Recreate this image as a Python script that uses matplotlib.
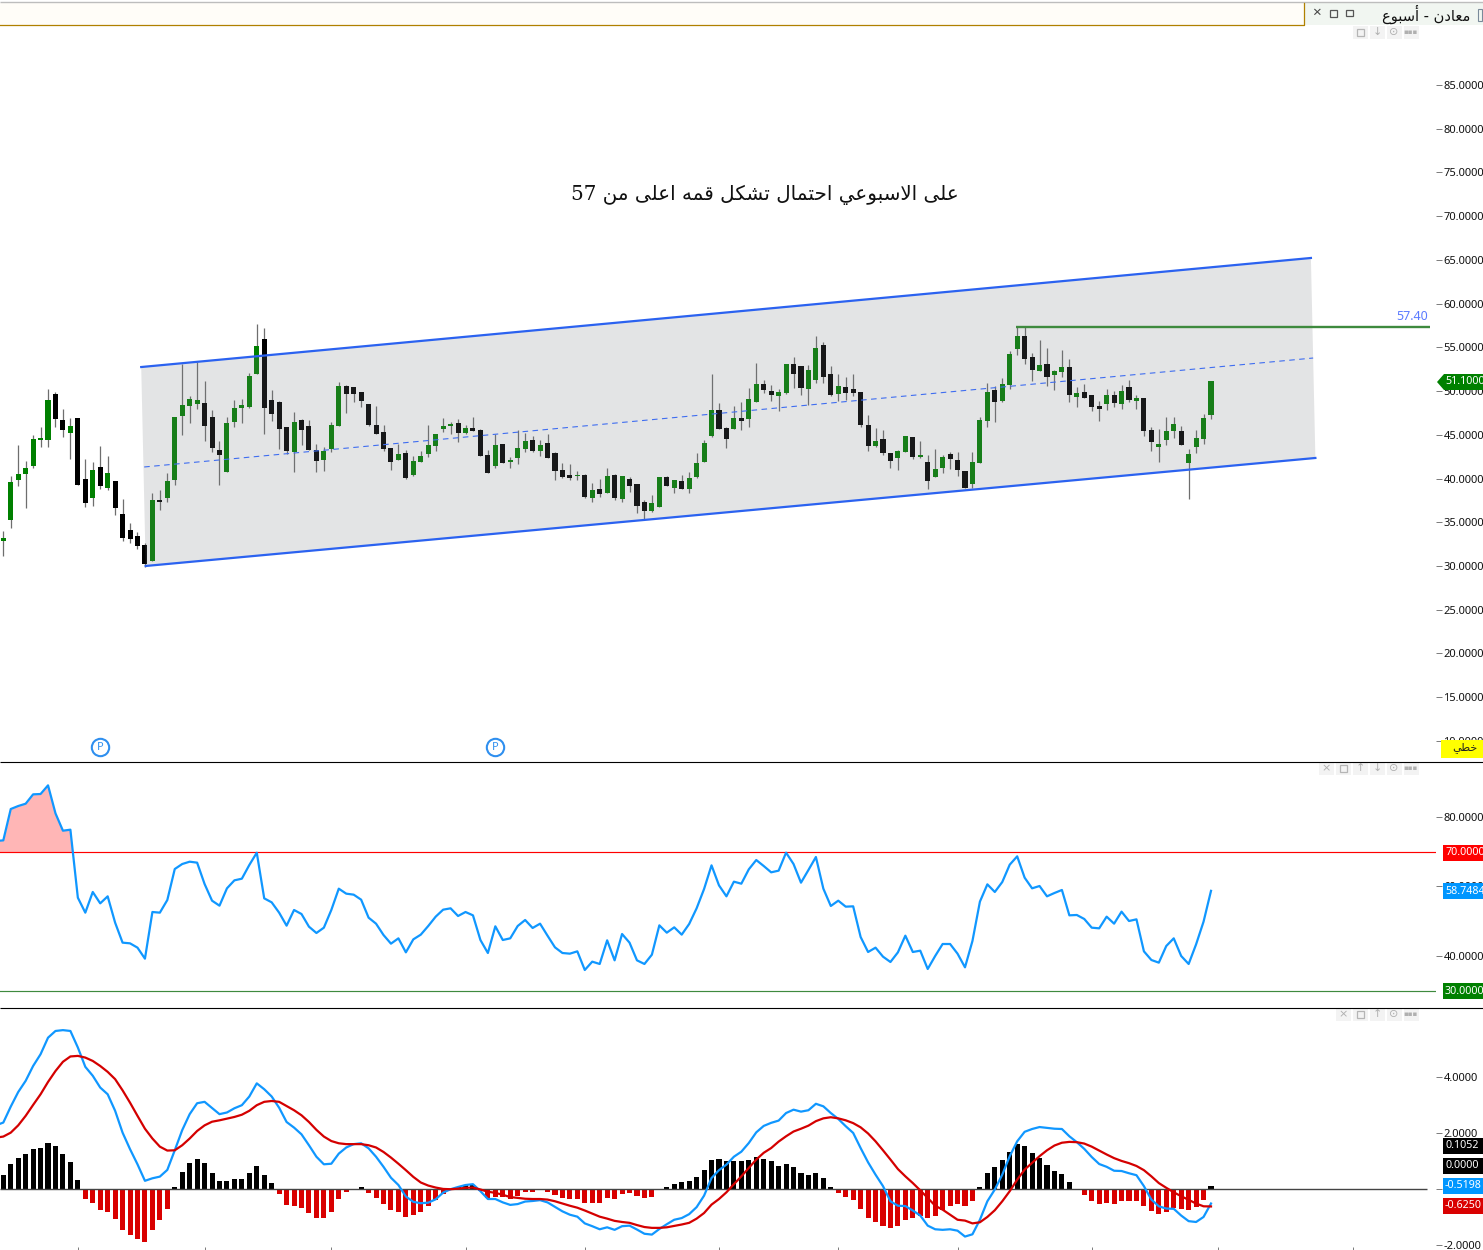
import numpy as np
import matplotlib
matplotlib.use('Agg')
from matplotlib import pyplot as plt
from matplotlib.patches import Rectangle, Polygon

# weekly candles
opens = [32.86,35.26,39.83,40.52,41.43,44.41,44.41,49.67,46.69,45.21,46.92,39.95,37.77,41.32,38.92,39.72,35.94,34.11,33.43,32.40,
         30.57,37.55,37.77,39.83,47.15,48.30,48.52,48.64,47.04,43.26,40.75,46.46,48.07,48.18,51.95,55.96,48.98,48.75,45.89,43.03,
         46.69,46.01,43.26,42.12,43.38,46.01,50.58,50.47,49.90,48.52,46.12,45.32,43.49,42.12,42.92,40.40,41.89,42.81,43.72,45.66,
         46.01,46.35,45.21,45.78,45.55,42.69,41.43,43.95,41.89,42.35,43.38,44.41,43.15,44.06,42.92,40.98,40.40,40.29,40.40,37.77,
         38.80,38.35,40.40,37.66,39.95,39.37,37.32,36.29,36.74,40.18,38.92,39.72,38.80,40.18,41.89,44.86,47.84,45.78,45.66,46.92,
         46.81,48.75,50.81,50.01,49.44,49.78,53.10,52.87,50.24,51.27,55.27,51.95,49.67,50.47,50.24,49.90,46.12,43.72,44.52,42.92,
         42.35,43.03,44.75,42.46,41.89,40.18,41.20,42.81,42.12,40.86,39.37,41.78,46.58,50.12,48.86,50.69,54.81,56.30,53.90,52.30,
         53.10,51.84,52.18,52.75,49.32,49.89,49.55,48.29,48.52,49.55,48.52,50.47,48.86,49.21,45.55,43.60,44.40,45.43,45.43,41.77,
         43.60,44.52,47.26]
closes = [33.20,39.60,40.52,41.20,44.52,44.64,48.98,46.81,45.55,46.01,39.26,37.20,40.98,39.15,40.63,36.63,33.20,33.09,32.28,30.23,
          37.55,37.32,39.72,47.04,48.41,49.10,48.98,46.01,43.49,42.69,46.35,48.07,48.41,51.73,55.16,48.07,47.38,45.66,43.15,46.46,
          45.55,43.26,42.00,43.15,46.12,50.58,49.67,49.67,48.87,46.12,45.09,43.38,41.89,42.81,40.06,42.00,42.58,43.83,45.09,46.01,
          46.24,45.21,45.78,45.44,42.58,40.63,43.83,41.78,42.12,43.49,44.29,43.15,43.83,42.35,40.86,40.18,40.06,40.40,37.89,38.69,
          38.23,40.29,37.77,40.29,39.15,36.86,36.29,37.20,40.18,39.15,39.83,38.80,40.06,41.78,44.06,47.84,45.66,44.52,46.92,46.58,
          49.10,50.81,50.12,49.55,49.90,53.10,51.95,50.35,52.41,54.93,51.61,49.55,50.58,49.78,49.78,46.12,43.72,44.29,42.92,42.00,
          43.15,44.86,42.46,42.69,39.72,41.09,42.46,42.23,40.98,38.92,41.89,46.69,49.89,48.75,50.81,54.24,56.30,53.67,52.41,52.98,
          51.61,52.30,52.75,49.55,49.78,49.21,48.18,47.95,49.55,48.64,50.01,48.98,49.21,45.43,44.18,43.95,45.43,46.23,43.83,42.80,
          44.63,46.92,51.10]
highs = [33.96,40.29,43.83,42.00,44.98,45.89,50.24,49.90,47.95,46.92,46.92,42.23,41.89,43.72,42.58,39.72,37.66,34.91,33.89,32.63,
         38.35,38.69,40.63,47.04,53.10,49.44,53.33,51.15,47.84,44.29,47.04,48.98,49.10,52.07,57.67,57.22,50.12,48.87,45.89,47.61,
         46.81,46.69,43.95,43.61,46.46,51.04,50.70,50.47,49.90,48.52,48.30,46.12,43.49,43.95,43.26,42.58,43.15,46.12,45.09,46.92,
         46.46,46.81,46.12,47.04,45.66,43.26,45.09,43.95,42.46,45.55,45.21,44.86,44.41,45.09,43.03,41.78,41.66,40.86,40.52,39.49,
         39.95,41.20,40.52,40.29,40.18,39.37,37.55,38.12,40.18,40.29,39.83,40.40,40.75,42.92,44.41,51.95,48.64,45.89,48.30,48.75,
         50.35,53.21,51.27,50.70,50.24,53.10,53.90,52.87,52.98,56.30,55.61,52.87,51.95,51.61,51.95,49.90,47.27,45.78,45.55,42.92,
         43.26,44.86,44.75,44.29,42.69,43.38,42.69,43.03,43.03,40.86,43.03,47.04,50.92,50.58,51.50,54.58,57.29,57.29,54.35,55.84,
         54.93,52.41,54.70,53.67,50.47,50.81,49.55,48.86,50.24,50.01,50.69,51.27,49.55,49.21,45.89,45.66,47.03,47.03,46.01,43.38,
         45.55,47.38,51.15]
lows = [31.14,34.34,39.15,36.63,41.20,43.61,43.61,45.89,44.75,42.23,39.26,36.74,36.86,38.80,38.69,35.83,32.86,32.63,31.94,29.88,
        30.57,36.40,37.32,39.26,44.98,46.35,47.95,44.29,43.03,39.26,40.75,45.89,46.35,48.07,51.95,45.09,46.58,43.38,42.81,40.75,
        43.83,43.26,40.75,40.86,43.03,46.01,47.49,48.75,48.18,46.01,45.09,43.15,40.98,42.12,39.95,40.29,41.89,42.46,43.15,45.32,
        45.09,44.18,45.09,45.44,42.58,40.63,41.20,41.78,41.20,41.66,43.03,43.03,42.58,42.35,39.83,40.06,39.83,39.83,37.77,37.32,
        37.89,38.35,37.55,37.32,38.46,36.06,35.26,36.17,36.74,39.15,38.35,38.80,38.35,40.06,41.89,44.75,45.66,43.49,45.66,45.55,
        45.89,48.75,49.78,48.87,47.72,49.67,50.35,49.55,48.41,50.93,50.93,49.44,48.87,48.98,49.44,45.89,43.15,43.61,42.69,41.20,
        40.98,43.03,42.23,42.35,38.80,40.18,40.63,41.09,40.29,38.92,38.92,41.78,45.89,46.46,48.75,50.24,54.12,53.10,51.15,52.30,
        50.58,50.12,51.61,48.75,48.18,49.21,47.72,46.58,47.84,48.18,47.95,48.75,47.95,44.86,43.15,41.89,43.83,44.63,43.83,37.66,
        42.92,43.95,46.81]

# first value of rsi, macd and signal belongs to the bar before the first candle
rsi = [73.09,73.28,82.30,83.16,83.83,86.52,86.62,89.11,81.05,76.06,76.35,56.78,52.47,58.42,55.15,57.17,49.59,43.84,43.64,42.40,39.23,
       52.66,52.47,56.11,65.03,66.47,67.14,66.86,60.72,55.92,54.48,59.47,61.77,62.25,66.19,69.73,56.59,55.44,52.47,48.73,53.24,
       52.08,48.44,46.62,48.15,53.24,59.37,57.94,57.65,56.21,51.03,49.30,46.04,43.55,45.08,41.05,44.79,46.14,48.63,51.32,53.33,
       53.72,51.51,52.66,51.70,44.60,40.86,48.54,44.60,45.08,48.63,50.36,48.06,49.30,45.85,42.49,40.86,40.67,41.34,35.97,38.37,
       37.70,44.51,38.75,46.33,43.84,38.75,37.70,40.38,48.82,46.71,48.25,46.14,49.21,53.72,59.28,66.09,60.33,57.17,61.39,60.81,
       64.94,67.62,65.90,64.08,64.56,69.74,66.47,61.10,64.75,68.49,59.38,54.39,55.92,54.20,54.29,45.47,41.15,42.40,39.81,38.27,
       41.05,45.85,41.15,41.53,36.26,40.00,43.45,43.45,40.67,36.74,44.32,55.63,60.62,58.42,61.29,66.28,68.68,62.54,59.47,60.14,
       57.17,58.13,59.00,51.70,51.80,50.65,48.15,47.96,51.32,49.30,52.76,50.07,50.55,41.34,38.85,38.08,42.88,45.08,40.00,37.70,
       43.36,49.88,58.75]
macd = [2.27,2.37,2.94,3.46,3.86,4.39,4.81,5.40,5.64,5.67,5.64,5.05,4.36,4.04,3.62,3.38,2.79,2.01,1.42,.88,.29,
        .38,.44,.68,1.38,2.10,2.67,3.06,3.11,2.89,2.67,2.73,2.88,2.99,3.30,3.77,3.56,3.30,2.90,2.39,2.19,
        1.95,1.56,1.15,.88,.90,1.26,1.48,1.60,1.63,1.45,1.15,.79,.40,.14,-.27,-.46,-.51,-.49,-.37,-.13,
        -.01,.07,.14,.17,-.08,-.36,-.36,-.48,-.57,-.54,-.45,-.43,-.40,-.48,-.64,-.80,-.92,-.99,-1.23,-1.33,
        -1.44,-1.37,-1.46,-1.33,-1.31,-1.45,-1.60,-1.63,-1.43,-1.26,-1.10,-1.04,-.90,-.65,-.24,.39,.67,.87,1.15,1.33,
        1.64,2.02,2.25,2.36,2.44,2.71,2.83,2.76,2.81,3.04,2.95,2.71,2.50,2.24,2.00,1.46,.95,.51,.10,-.44,
        -.60,-.61,-.77,-.95,-1.31,-1.44,-1.46,-1.44,-1.49,-1.70,-1.62,-1.10,-.44,-.02,.51,1.17,1.70,2.04,2.14,2.21,
        2.18,2.15,2.14,1.88,1.67,1.43,1.14,.89,.79,.65,.64,.56,.49,.10,-.38,-.62,-.70,-.71,-.95,-1.15,
        -1.18,-1.00,-.52]
signal = [1.83,1.87,2.01,2.27,2.61,3.00,3.38,3.82,4.21,4.54,4.73,4.75,4.69,4.57,4.39,4.18,3.92,3.52,3.08,2.61,2.15,
          1.80,1.51,1.37,1.38,1.56,1.80,2.07,2.27,2.40,2.45,2.51,2.57,2.65,2.79,2.99,3.11,3.14,3.11,2.96,2.81,
          2.63,2.39,2.11,1.87,1.71,1.63,1.60,1.60,1.60,1.56,1.48,1.32,1.12,.90,.67,.43,.23,.12,.05,0,
          -.01,.01,.04,.05,-.02,-.10,-.14,-.21,-.29,-.32,-.35,-.36,-.36,-.38,-.44,-.52,-.60,-.67,-.77,-.88,
          -.99,-1.06,-1.14,-1.18,-1.21,-1.29,-1.36,-1.39,-1.39,-1.37,-1.32,-1.27,-1.21,-1.06,-.86,-.56,-.36,-.12,.17,.45,
          .75,1.05,1.29,1.46,1.69,1.88,2.05,2.15,2.26,2.42,2.52,2.56,2.52,2.45,2.35,2.20,1.98,1.70,1.38,1.05,
          .71,.45,.21,-.05,-.32,-.60,-.74,-.92,-1.10,-1.13,-1.23,-1.19,-1.00,-.76,-.44,-.08,.33,.69,.93,1.17,
          1.38,1.55,1.65,1.68,1.67,1.62,1.51,1.37,1.23,1.10,1.00,.92,.82,.67,.45,.21,.04,-.12,-.26,-.39,
          -.52,-.62,-.625]
hist = [.49,.88,1.10,1.24,1.42,1.45,1.63,1.52,1.24,.95,.31,-.37,-.51,-.76,-.83,-1.08,-1.48,-1.65,-1.80,-1.90,
        -1.48,-1.12,-.73,.06,.60,.92,1.06,.92,.56,.27,.27,.35,.35,.56,.81,.49,.20,-.19,-.58,-.62,
        -.69,-.87,-1.05,-1.05,-.83,-.37,-.12,-.01,.06,-.15,-.33,-.55,-.76,-.83,-1.01,-.94,-.83,-.62,-.40,-.19,
        -.04,.06,.13,.13,-.08,-.31,-.30,-.29,-.35,-.24,-.10,-.10,-.01,-.10,-.20,-.31,-.35,-.35,-.49,-.49,
        -.49,-.31,-.35,-.17,-.13,-.24,-.31,-.27,-.01,.08,.19,.23,.30,.44,.69,1.05,1.08,.98,1.01,.98,
        1.05,1.15,1.08,.98,.83,.90,.80,.58,.51,.58,.40,.08,-.13,-.27,-.38,-.70,-1.02,-1.17,-1.31,-1.38,
        -1.31,-1.10,-1.02,-.95,-1.02,-.95,-.74,-.60,-.52,-.60,-.42,.08,.58,.80,1.05,1.33,1.62,1.55,1.30,1.12,
        .87,.65,.55,.23,0,-.20,-.42,-.52,-.49,-.52,-.42,-.42,-.42,-.60,-.77,-.88,-.81,-.67,-.70,-.74,
        -.63,-.38,.1052]

price_ticks = list(range(10, 90, 5))
rsi_ticks = [40, 60, 80]
macd_ticks = [-2, 0, 2, 4]
time_tick_bars = [10, 27, 44, 62, 78, 96, 112, 128, 146, 163, 181]
event_bars = [13, 66]

# drawn channel and resistance, in bars and price
channel_top_x, channel_top_y = [18.5, 175.4], [52.75, 65.22]
channel_low_x, channel_low_y = [19.1, 176.0], [30.0, 42.35]
channel_mid_x, channel_mid_y = [18.9, 175.7], [41.32, 53.78]
resistance_start, resistance_end, resistance_price = 135.9, 191.4, 57.3

title_text = 'على الاسبوعي احتمال تشكل قمه اعلى من 57'
window_text = 'معادن - أسبوع'
scale_text = 'خطي'

# matplotlib does not join arabic letters, so pick the presentation forms by hand
FORMS = {'ا': (0xFE8D, 0xFE8E), 'أ': (0xFE83, 0xFE84), 'د': (0xFEA9, 0xFEAA), 'و': (0xFEED, 0xFEEE), 'ى': (0xFEEF, 0xFEF0),
         'ب': (0xFE8F, 0xFE90, 0xFE91, 0xFE92), 'ت': (0xFE95, 0xFE96, 0xFE97, 0xFE98), 'ح': (0xFEA1, 0xFEA2, 0xFEA3, 0xFEA4),
         'خ': (0xFEA5, 0xFEA6, 0xFEA7, 0xFEA8), 'س': (0xFEB1, 0xFEB2, 0xFEB3, 0xFEB4), 'ش': (0xFEB5, 0xFEB6, 0xFEB7, 0xFEB8),
         'ط': (0xFEC1, 0xFEC2, 0xFEC3, 0xFEC4), 'ع': (0xFEC9, 0xFECA, 0xFECB, 0xFECC), 'ق': (0xFED5, 0xFED6, 0xFED7, 0xFED8),
         'ك': (0xFED9, 0xFEDA, 0xFEDB, 0xFEDC), 'ل': (0xFEDD, 0xFEDE, 0xFEDF, 0xFEE0), 'م': (0xFEE1, 0xFEE2, 0xFEE3, 0xFEE4),
         'ن': (0xFEE5, 0xFEE6, 0xFEE7, 0xFEE8), 'ه': (0xFEE9, 0xFEEA, 0xFEEB, 0xFEEC), 'ي': (0xFEF1, 0xFEF2, 0xFEF3, 0xFEF4)}
LAM_ALEF = {'ا': (0xFEFB, 0xFEFC), 'أ': (0xFEF7, 0xFEF8)}


def shape_word(word):
    if word[0] not in FORMS:
        return word
    out = []
    i = 0
    while i < len(word):
        ch = word[i]
        joins_prev = i > 0 and len(FORMS[word[i - 1]]) == 4
        if ch == 'ل' and i + 1 < len(word) and word[i + 1] in LAM_ALEF:
            out.append(chr(LAM_ALEF[word[i + 1]][1 if joins_prev else 0]))
            i += 2
            continue
        joins_next = len(FORMS[ch]) == 4 and i + 1 < len(word)
        form = {(False, False): 0, (True, False): 1, (False, True): 2, (True, True): 3}[(joins_prev, joins_next)]
        out.append(chr(FORMS[ch][form]))
        i += 1
    return ''.join(reversed(out))


def shape(text):
    return ' '.join(shape_word(w) for w in reversed(text.split(' ')))


W, H = 1483, 1250
BAR_PX = 7.455
FIRST_PX = 3.3
PANE_RIGHT = 1436
plt.rcParams['font.family'] = ['Noto Sans', 'DejaVu Sans']
TICK_GRAY = '#7a7a7a'

fig = plt.figure(figsize=(W / 100, H / 100), dpi=100, facecolor='white')


def pane(top, bottom, ylim):
    ax = fig.add_axes([0, 1 - bottom / H, PANE_RIGHT / W, (bottom - top) / H])
    ax.set_xlim(-FIRST_PX / BAR_PX, (PANE_RIGHT - FIRST_PX) / BAR_PX)
    ax.set_ylim(*ylim)
    for s in ax.spines.values():
        s.set_visible(False)
    ax.yaxis.tick_right()
    ax.tick_params(axis='y', length=4.3, width=0.7, color=TICK_GRAY, pad=1, labelsize=8, labelcolor='#111111')
    ax.set_xticks([])
    return ax


ax1 = pane(25, 761, (7.70, 91.86))
ax2 = pane(762, 1007, (25.32, 95.83))
ax3 = pane(1008, 1250, (-2.18, 6.46))

# price pane
bars = np.arange(len(closes))
opens_a, closes_a = np.array(opens), np.array(closes)
candle_colors = ['#008000' if c >= o else '#000000' for o, c in zip(opens, closes)]
ax1.vlines(bars, lows, highs, color='#6e6e6e', lw=0.9, zorder=2)
ax1.bar(bars, np.abs(closes_a - opens_a), bottom=np.minimum(opens_a, closes_a), width=0.68, color=candle_colors, lw=0, zorder=3)

ax1.fill(channel_top_x + channel_low_x[::-1], channel_top_y + channel_low_y[::-1], color='#75797e', alpha=0.2, lw=0, zorder=4)
ax1.plot(channel_top_x, channel_top_y, color='#2b62f0', lw=1.6, zorder=5)
ax1.plot(channel_low_x, channel_low_y, color='#2b62f0', lw=1.6, zorder=5)
ax1.plot(channel_mid_x, channel_mid_y, color='#3f6df0', lw=0.8, ls=(0, (5, 4)), zorder=5)
ax1.hlines(resistance_price, resistance_start, resistance_end, color='#3e8a3e', lw=1.7, zorder=6)
ax1.set_yticks(price_ticks, ['%.4f' % t for t in price_ticks])

ax1.plot(event_bars, [9.3, 9.3], 'o', ms=12.5, mfc='white', mec='#2f8fef', mew=1.5, clip_on=False, zorder=7)
for b in event_bars:
    ax1.text(b, 9.3, 'P', color='#2f8fef', fontsize=8, fontweight='bold', ha='center', va='center', zorder=8)

# rsi pane
rsi_x = np.arange(-1, len(rsi) - 1)
rsi_a = np.array(rsi)
ax2.fill_between(rsi_x, 70, rsi_a, where=rsi_a > 70, interpolate=True, color='#ffb6b6', lw=0, zorder=1)
ax2.axhline(70, color='#ff0000', lw=0.85, zorder=2)
ax2.axhline(30, color='#3e8a3e', lw=0.85, zorder=2)
ax2.plot(rsi_x, rsi, color='#1097ff', lw=1.6, zorder=3)
ax2.set_yticks(rsi_ticks, ['%.4f' % t for t in rsi_ticks])

# macd pane
hist_bars = np.arange(len(hist))
hist_colors = ['#000000' if v >= 0 else '#d90000' for v in hist]
ax3.bar(hist_bars, hist, width=0.68, color=hist_colors, lw=0, zorder=2)
ax3.hlines(0, ax3.get_xlim()[0], (1427 - FIRST_PX) / BAR_PX, color='#444444', lw=1.0, zorder=3)
macd_x = np.arange(-1, len(macd) - 1)
ax3.plot(macd_x, macd, color='#1097ff', lw=1.6, zorder=4)
ax3.plot(macd_x, signal, color='#d40000', lw=1.6, zorder=5)
ax3.set_yticks(macd_ticks, ['%.4f' % t for t in macd_ticks])
ax3.set_xticks(time_tick_bars)
ax3.tick_params(axis='x', direction='in', length=2.2, width=0.7, color=TICK_GRAY, labelbottom=False)

# window frame, price flags and small buttons, placed in pixels on top of the panes
ui = fig.add_axes([0, 0, 1, 1], zorder=10)
ui.set_xlim(0, W)
ui.set_ylim(H, 0)
ui.axis('off')
ui.patch.set_alpha(0)


def box(x0, y0, x1, y1, **kw):
    ui.add_patch(Rectangle((x0, y0), x1 - x0, y1 - y0, **kw))


ui.hlines([761.5, 1007.5], 0, W, color='black', lw=0.8)
ui.hlines(2, 0, W, color='#bdbdbd', lw=1.0)
box(0, 3, 1303.5, 24.5, facecolor='#fffdf8', edgecolor='none')
ui.plot([0, 1303.5, 1303.5], [24.5, 24.5, 3], color='#b08000', lw=0.9)
box(1304, 3, W, 24.5, facecolor='#f1f6f1', edgecolor='none')
ui.text(1316, 13.5, '×', color='#444444', fontsize=11, fontweight='bold', ha='center', va='center')
box(1329.5, 9.5, 1336.5, 16.5, fill=False, edgecolor='#555555', lw=0.9)
box(1345.5, 9.5, 1352.5, 15.5, fill=False, edgecolor='#555555', lw=0.9)
ui.text(1470, 14, shape(window_text), fontsize=10.5, family=['DejaVu Sans'], ha='right', va='center', color='#111111')
box(1477.5, 9, 1481.5, 21, fill=False, edgecolor='#7a8a9a', lw=0.8)

ui.text(765, 195, shape(title_text), fontsize=14.3, family=['DejaVu Serif', 'DejaVu Sans'], ha='center', va='center', color='#111111')
ui.text(1428, 316, '57.40', fontsize=9, color='#5b7bff', ha='right', va='center')


def flag(y, text, color):
    box(1443, y - 8, W, y + 8, facecolor=color, edgecolor='none')
    ui.text(1445, y, text, color='white', fontsize=7.7, ha='left', va='center')


ui.add_patch(Polygon([(1437, 382), (1444, 374), (W, 374), (W, 390), (1444, 390)], facecolor='#008000', edgecolor='none'))
ui.text(1445, 382, '51.1000', color='white', fontsize=7.7, ha='left', va='center')
box(1441, 740, W, 758, facecolor='#ffff00', edgecolor='none')
ui.text(1465, 748, shape(scale_text), fontsize=8, family=['DejaVu Sans'], ha='center', va='center', color='#222222')
flag(852.5, '70.0000', '#ff0000')
flag(891, '58.7484', '#0096ff')
flag(991, '30.0000', '#008000')
flag(1146, '0.1052', '#000000')
flag(1166, '0.0000', '#000000')
flag(1186, '-0.5198', '#0096ff')
flag(1206, '-0.6250', '#d90000')

BUTTON_TEXT = {'x': '×', 'up': '↑', 'down': '↓', 'dot': '⊙', 'more': '▪▪▪'}


def buttons(right, y, names):
    x = right - 17 * len(names)
    for name in names:
        box(x + 0.5, y - 6.5, x + 16, y + 6.5, facecolor='#f3f3f3', edgecolor='none')
        if name == 'box':
            box(x + 4.5, y - 3.5, x + 11.5, y + 3.5, fill=False, edgecolor='#b5b5b5', lw=0.9)
        else:
            ui.text(x + 8, y, BUTTON_TEXT[name], color='#b0b0b0', fontsize=5 if name == 'more' else 8, family=['DejaVu Sans'],
                    ha='center', va='center')
        x += 17


buttons(1420, 32, ['box', 'down', 'dot', 'more'])
buttons(1420, 768, ['x', 'box', 'up', 'down', 'dot', 'more'])
buttons(1420, 1014, ['x', 'box', 'up', 'dot', 'more'])

fig.savefig('out.png', dpi=100)
